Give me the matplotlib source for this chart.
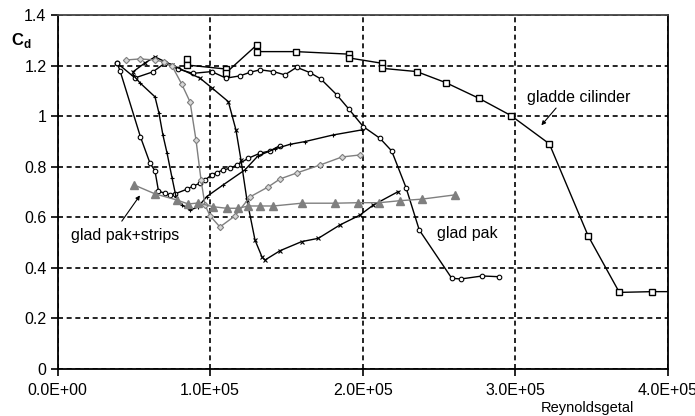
import matplotlib
matplotlib.use('Agg')
import matplotlib.pyplot as plt
from matplotlib.ticker import FuncFormatter, MultipleLocator
import numpy as np

plt.rcParams['font.family'] = ['Liberation Sans', 'DejaVu Sans']

# Reynoldsgetal in eenheden van 1e5, Cd
cil_re = [0.848, 0.848, 1.104, 1.104, 1.305, 1.305, 1.561, 1.910, 1.910, 2.125, 2.125,
          2.354, 2.546, 2.763, 2.972, 3.224, 3.479, 3.683, 3.899, 4.05]
cil_cd = [1.226, 1.202, 1.186, 1.171, 1.281, 1.255, 1.255, 1.245, 1.230, 1.209, 1.189,
          1.176, 1.132, 1.070, 1.002, 0.890, 0.525, 0.302, 0.305, 0.305]

pak_re = [0.389, 0.507, 0.625, 0.704, 0.789, 0.887, 1.010, 1.104, 1.195, 1.261, 1.327,
          1.414, 1.490, 1.567, 1.654, 1.725, 1.830, 1.910, 2.004, 2.113, 2.190, 2.284,
          2.371, 2.584, 2.643, 2.784, 2.896]
pak_cd = [1.210, 1.151, 1.175, 1.210, 1.186, 1.169, 1.176, 1.150, 1.159, 1.173, 1.183,
          1.176, 1.163, 1.193, 1.172, 1.147, 1.084, 1.027, 0.958, 0.912, 0.862, 0.717,
          0.549, 0.358, 0.355, 0.367, 0.364]

a_re = [0.389, 0.409, 0.543, 0.605, 0.638, 0.661, 0.704, 0.736, 0.769, 0.846, 0.889,
        0.933, 0.966, 1.010, 1.043, 1.086, 1.130, 1.174, 1.250, 1.327, 1.392, 1.458]
a_cd = [1.210, 1.179, 0.917, 0.814, 0.783, 0.703, 0.694, 0.688, 0.692, 0.710, 0.723,
        0.734, 0.747, 0.767, 0.776, 0.787, 0.793, 0.806, 0.833, 0.853, 0.862, 0.883]

b_re = [0.494, 0.540, 0.638, 0.664, 0.690, 0.717, 0.750, 0.776, 0.815, 0.868, 0.920,
        0.977, 1.084, 1.228, 1.313, 1.425, 1.523, 1.622, 1.805, 1.993]
b_cd = [1.163, 1.131, 1.076, 1.012, 0.925, 0.854, 0.755, 0.680, 0.648, 0.628, 0.640,
        0.681, 0.727, 0.787, 0.842, 0.870, 0.888, 0.899, 0.925, 0.945]

c_re = [0.494, 0.572, 0.638, 0.750, 0.933, 1.014, 1.119, 1.169, 1.202, 1.241, 1.294,
        1.340, 1.359, 1.458, 1.600, 1.709, 1.851, 1.982, 2.070, 2.233]
c_cd = [1.175, 1.210, 1.234, 1.202, 1.150, 1.110, 1.057, 0.945, 0.826, 0.668, 0.509,
        0.442, 0.430, 0.467, 0.503, 0.516, 0.569, 0.608, 0.648, 0.701]

d_re = [0.448, 0.540, 0.638, 0.697, 0.750, 0.813, 0.868, 0.907, 0.940, 0.966, 0.999,
        1.064, 1.163, 1.261, 1.379, 1.458, 1.569, 1.720, 1.864, 1.982]
d_cd = [1.222, 1.226, 1.222, 1.214, 1.198, 1.127, 1.056, 0.905, 0.747, 0.648, 0.605,
        0.561, 0.605, 0.680, 0.719, 0.751, 0.775, 0.806, 0.838, 0.846]

strip_re = [0.502, 0.638, 0.780, 0.856, 0.922, 1.020, 1.108, 1.184, 1.250, 1.327, 1.414,
            1.600, 1.818, 1.971, 2.109, 2.245, 2.387, 2.605]
strip_cd = [0.727, 0.692, 0.668, 0.652, 0.656, 0.641, 0.635, 0.635, 0.644, 0.644, 0.644,
            0.655, 0.655, 0.657, 0.657, 0.665, 0.671, 0.688]

fig = plt.figure(figsize=(6.95, 4.16), dpi=100)
ax = fig.add_axes([0.083, 0.1137, 0.8777, 0.8503])

grijs = '#7f7f7f'
lw = 1.0

def re(v):
    return np.array(v) * 1e5

ax.plot(re(cil_re), cil_cd, color='black', lw=lw, marker='s', ms=4.5, mfc='white',
        mec='black', mew=1.0, markevery=list(range(len(cil_re) - 1)))
ax.plot(re(pak_re), pak_cd, color='black', lw=lw, marker='o', ms=3.3, mfc='white',
        mec='black', mew=0.8)
ax.plot(re(a_re), a_cd, color='black', lw=lw, marker='o', ms=3.3, mfc='white',
        mec='black', mew=0.8)
ax.plot(re(b_re), b_cd, color='black', lw=lw, marker='+', ms=3.5, mew=0.8)
ax.plot(re(c_re), c_cd, color='black', lw=lw, marker='x', ms=2.8, mew=0.8)
ax.plot(re(d_re), d_cd, color=grijs, lw=lw, marker='D', ms=3.2, mfc='#d8d8d8',
        mec=grijs, mew=0.8)
ax.plot(re(strip_re), strip_cd, color=grijs, lw=lw, marker='^', ms=5.5, mfc=grijs,
        mec=grijs)

ax.set_xlim(0, 4e5)
ax.set_ylim(0, 1.4)
ax.xaxis.set_major_locator(MultipleLocator(1e5))
ax.yaxis.set_major_locator(MultipleLocator(0.2))
ax.xaxis.set_major_formatter(FuncFormatter(lambda x, p: "{:.1E}".format(x)))
ax.yaxis.set_major_formatter(FuncFormatter(lambda y, p: "{:g}".format(round(y, 1))))
ax.grid(True, color='black', linestyle=(0, (3, 2.2)), lw=1.2)
ax.set_axisbelow(True)
for s in ax.spines.values():
    s.set_linewidth(1.3)
ax.spines['top'].set_color('#444444')
ax.tick_params(axis='both', direction='out', length=5, width=1.2, labelsize=11.5,
               colors='black')
ax.tick_params(axis='x', pad=5)
ax.tick_params(axis='y', pad=3)

fig.text(21 / 695, 1 - 40 / 416, r'C$_\mathregular{d}$', fontsize=12, fontweight='bold',
         ha='center', va='center')
fig.text(587 / 695, 1 - 408 / 416, 'Reynoldsgetal', fontsize=10.5, ha='center',
         va='center')

ax.annotate('gladde cilinder', xy=(3.15e5, 0.96), xytext=(3.08e5, 1.075),
            fontsize=11.5, ha='left', va='center')
ax.annotate('', xy=(3.16e5, 0.955), xytext=(3.28e5, 1.04),
            arrowprops=dict(arrowstyle='-|>', color='black', lw=0.8,
                            mutation_scale=6))
ax.annotate('glad pak+strips', xy=(0.47e5, 0.5), xytext=(0.09e5, 0.527),
            fontsize=11.5, ha='left', va='center')
ax.annotate('', xy=(0.55e5, 0.695), xytext=(0.41e5, 0.575),
            arrowprops=dict(arrowstyle='-|>', color='black', lw=0.8,
                            mutation_scale=6))
ax.text(2.485e5, 0.537, 'glad pak', fontsize=11.5, ha='left', va='center')

plt.savefig('out.png', dpi=100)
plt.close()
